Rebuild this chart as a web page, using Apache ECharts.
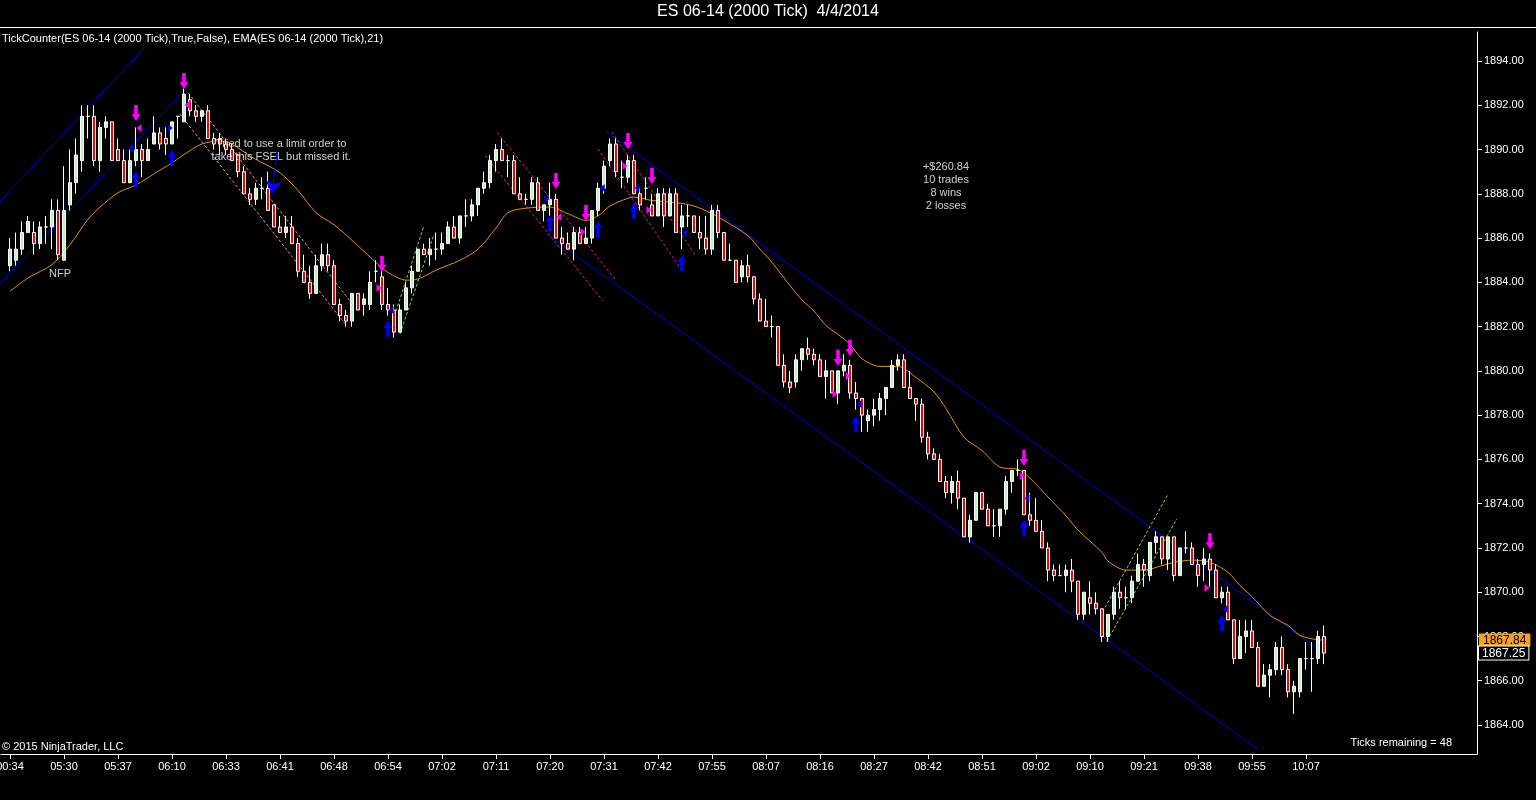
<!DOCTYPE html>
<html><head><meta charset="utf-8">
<script src="https://cdn.jsdelivr.net/npm/echarts@6/dist/echarts.min.js"></script>
<style>html,body{margin:0;padding:0;background:#000;}#c{width:1536px;height:800px;}</style>
</head><body><div id="c"></div>
<script>
const FONT = "'Liberation Sans', Arial, sans-serif";

const tickLabels = ['00:34','05:30','05:37','06:10','06:33','06:41','06:48','06:54','07:02','07:11','07:20','07:31','07:42','07:55','08:07','08:16','08:27','08:42','08:51','09:02','09:10','09:21','09:38','09:55','10:07'];
const yTicks = [1864,1866,1868,1870,1872,1874,1876,1878,1880,1882,1884,1886,1888,1890,1892,1894];

const opens = [
1884.75,1885.0,1885.5,1886.25,1886.25,1885.75,1886.5,1886.5,1887.25,1885.0,
1887.5,1888.5,1889.5,1891.5,1891.5,1889.5,1891.0,1891.25,1890.0,1889.5,
1888.5,1889.5,1890.0,1889.5,1890.25,1890.75,1890.5,1890.25,1891.5,1891.25,
1892.25,1891.75,1891.5,1891.75,1890.5,1890.5,1890.25,1890.0,1889.75,1889.0,
1888.0,1887.75,1888.25,1888.25,1887.5,1886.5,1886.25,1886.5,1885.75,1884.5,
1884.0,1883.5,1884.75,1885.25,1884.75,1883.0,1882.5,1882.25,1883.5,1883.0,
1883.0,1884.5,1884.25,1883.0,1882.75,1881.75,1882.75,1883.75,1884.5,1885.5,
1885.25,1885.5,1885.5,1885.75,1886.5,1886.0,1887.0,1887.0,1887.5,1888.25,
1888.5,1889.5,1890.0,1889.5,1889.5,1888.0,1887.75,1887.75,1888.5,1887.25,
1887.5,1887.75,1886.0,1885.75,1885.5,1886.25,1885.75,1886.0,1887.25,1888.25,
1889.5,1890.25,1888.75,1888.75,1889.5,1888.0,1888.25,1887.5,1887.0,1888.0,
1887.0,1888.0,1886.5,1887.0,1887.0,1886.25,1886.0,1885.5,1887.25,1886.25,
1885.0,1885.0,1884.25,1884.75,1884.25,1883.25,1882.25,1882.0,1882.0,1880.25,
1879.5,1879.5,1880.5,1881.0,1880.75,1880.5,1879.75,1880.0,1879.0,1880.0,
1880.25,1879.0,1878.75,1877.75,1878.0,1878.25,1878.75,1879.25,1880.25,1880.5,
1879.25,1878.75,1878.5,1877.0,1876.25,1876.0,1875.0,1874.5,1875.0,1874.25,
1872.5,1873.25,1874.5,1873.75,1873.0,1873.0,1873.75,1875.0,1875.5,1875.5,
1873.5,1873.25,1872.75,1872.0,1871.0,1870.75,1870.75,1871.0,1870.5,1869.0,
1869.75,1869.5,1869.25,1868.0,1869.0,1870.0,1869.75,1869.75,1870.5,1871.25,
1870.75,1872.25,1872.5,1871.5,1872.5,1870.75,1872.0,1872.0,1871.25,1871.25,
1871.5,1871.0,1869.75,1870.0,1868.75,1867.0,1868.0,1868.25,1867.5,1865.75,
1866.25,1866.5,1867.5,1866.5,1865.5,1865.5,1867.0,1867.0,1867.0,1868.0];
const closes = [
1885.5,1885.5,1886.25,1886.75,1885.75,1886.5,1886.5,1887.25,1885.25,1887.25,
1888.5,1889.75,1891.5,1891.5,1889.5,1891.0,1891.25,1889.5,1889.5,1888.5,
1889.5,1890.0,1889.5,1890.0,1890.75,1890.25,1890.25,1891.25,1891.5,1892.5,
1891.75,1891.5,1891.75,1890.5,1890.25,1890.25,1890.0,1889.5,1889.0,1888.0,
1887.75,1888.25,1888.25,1887.25,1886.5,1886.25,1886.5,1885.75,1884.5,1884.0,
1883.5,1884.75,1885.25,1884.75,1883.0,1882.5,1882.25,1883.5,1882.75,1883.25,
1884.0,1884.5,1883.0,1882.75,1881.75,1882.75,1883.75,1884.5,1885.5,1885.25,
1885.5,1885.5,1885.75,1886.5,1886.0,1887.0,1887.0,1887.5,1888.25,1888.5,
1889.5,1890.0,1889.5,1889.5,1888.0,1887.75,1887.75,1888.5,1887.25,1887.5,
1887.75,1886.0,1885.75,1885.5,1886.25,1885.75,1886.0,1887.25,1888.25,1889.25,
1890.25,1889.0,1888.75,1889.5,1888.0,1887.5,1888.25,1887.0,1888.0,1887.0,
1888.0,1886.25,1887.0,1887.0,1886.25,1886.0,1885.5,1887.25,1886.25,1885.0,
1885.0,1884.0,1884.75,1884.25,1883.25,1882.25,1882.0,1882.0,1880.25,1879.5,
1879.25,1880.5,1881.0,1880.75,1880.5,1879.75,1880.0,1879.0,1880.0,1880.25,
1879.0,1878.75,1878.0,1878.0,1878.25,1878.75,1879.25,1880.25,1880.5,1879.25,
1878.75,1878.5,1877.0,1876.25,1876.0,1875.0,1874.5,1875.0,1874.25,1872.5,
1873.25,1874.5,1873.75,1873.0,1873.0,1873.75,1875.0,1875.5,1875.5,1873.5,
1873.25,1872.75,1872.0,1871.0,1870.75,1870.75,1871.0,1870.5,1869.0,1870.0,
1869.5,1869.25,1868.0,1869.0,1870.0,1869.75,1869.75,1870.5,1871.25,1871.0,
1872.25,1872.5,1871.5,1872.5,1870.75,1872.0,1872.0,1871.25,1870.75,1871.5,
1871.0,1869.75,1870.0,1868.75,1867.0,1868.0,1868.25,1867.5,1865.75,1866.25,
1866.5,1867.5,1866.5,1865.5,1865.75,1867.0,1867.0,1867.0,1868.0,1867.25];
const lows = [
1884.5,1884.75,1885.25,1886.25,1885.25,1885.5,1885.75,1885.5,1885.0,1885.0,
1887.25,1888.0,1889.0,1890.5,1889.25,1889.0,1890.5,1889.5,1889.5,1888.5,
1888.5,1889.25,1888.75,1889.5,1890.25,1890.0,1889.75,1890.25,1890.5,1891.25,
1891.5,1891.25,1891.25,1890.5,1890.0,1889.75,1889.75,1889.5,1888.75,1888.0,
1887.5,1887.5,1887.75,1887.25,1886.5,1886.25,1886.0,1885.75,1884.25,1884.0,
1883.25,1883.5,1884.5,1884.5,1883.0,1882.25,1882.0,1882.0,1882.75,1882.5,
1882.75,1884.0,1882.75,1882.5,1881.5,1881.75,1882.75,1883.5,1884.5,1885.25,
1884.75,1885.0,1885.25,1885.75,1886.0,1885.75,1886.5,1886.75,1887.0,1888.0,
1888.25,1889.0,1889.5,1888.75,1888.0,1887.75,1887.5,1887.5,1887.25,1886.75,
1887.0,1886.0,1885.25,1885.5,1885.0,1885.75,1885.75,1885.75,1887.0,1888.0,
1889.25,1888.75,1888.25,1888.5,1888.0,1887.25,1887.75,1887.0,1887.0,1886.5,
1887.0,1886.25,1885.5,1886.5,1886.25,1885.5,1885.25,1885.25,1886.0,1885.0,
1885.0,1884.0,1884.0,1884.0,1883.0,1882.25,1882.0,1881.5,1880.25,1879.25,
1879.0,1879.25,1880.0,1880.5,1880.25,1879.75,1878.75,1879.0,1878.5,1879.75,
1878.75,1878.25,1877.25,1877.25,1877.5,1877.75,1878.0,1879.25,1880.0,1879.25,
1878.75,1877.75,1876.75,1876.0,1876.0,1875.0,1874.25,1874.0,1873.75,1872.5,
1872.25,1873.25,1873.75,1873.0,1872.5,1872.5,1873.5,1874.5,1875.25,1873.5,
1873.0,1872.75,1872.0,1870.5,1870.5,1870.75,1870.0,1870.0,1868.75,1868.75,
1869.0,1869.0,1867.75,1867.75,1868.75,1869.25,1869.25,1869.5,1870.5,1870.25,
1870.5,1871.75,1871.25,1871.0,1870.5,1870.75,1871.75,1871.25,1870.25,1870.5,
1870.25,1869.75,1869.5,1868.75,1866.75,1867.0,1867.25,1867.5,1865.75,1865.75,
1865.25,1866.25,1866.25,1865.25,1864.5,1865.25,1866.5,1865.5,1866.75,1866.75];
const highs = [
1886.0,1886.25,1886.75,1887.0,1886.75,1886.75,1887.0,1887.75,1887.75,1889.25,
1890.0,1890.5,1892.0,1892.0,1892.0,1891.25,1891.5,1891.25,1890.5,1890.0,
1890.0,1891.0,1890.25,1890.5,1891.5,1891.0,1891.0,1891.25,1891.5,1892.75,
1892.5,1892.0,1891.75,1892.0,1890.75,1890.75,1890.5,1890.25,1889.75,1889.25,
1888.25,1888.5,1888.75,1889.0,1887.5,1887.0,1887.0,1887.0,1886.0,1885.25,
1884.75,1885.25,1885.75,1885.75,1885.0,1883.25,1882.75,1883.5,1883.5,1883.5,
1884.5,1885.0,1884.5,1883.75,1883.0,1883.0,1884.0,1884.75,1885.5,1885.75,
1886.0,1886.25,1886.25,1886.75,1887.0,1887.0,1887.75,1887.75,1888.25,1889.0,
1889.75,1890.25,1890.5,1889.75,1889.75,1888.75,1888.0,1888.75,1888.75,1887.5,
1888.5,1888.0,1886.5,1886.25,1886.5,1886.5,1886.5,1887.25,1888.5,1889.5,
1890.5,1890.5,1889.5,1889.75,1889.75,1888.25,1888.75,1888.0,1888.25,1888.25,
1888.25,1888.25,1887.5,1887.5,1887.0,1887.0,1887.0,1887.5,1887.5,1886.25,
1885.75,1885.0,1885.0,1885.25,1884.25,1883.5,1883.25,1882.5,1882.0,1880.75,
1880.0,1880.75,1881.0,1881.5,1881.0,1880.75,1880.5,1880.0,1880.0,1880.75,
1880.5,1879.5,1878.75,1878.25,1878.75,1879.0,1879.25,1880.5,1880.75,1880.75,
1880.0,1878.75,1878.75,1877.25,1876.5,1876.25,1875.25,1875.25,1875.5,1874.25,
1873.5,1874.5,1874.5,1874.0,1873.75,1873.75,1875.25,1875.5,1876.0,1875.5,
1874.5,1874.25,1873.25,1872.25,1871.25,1871.25,1871.25,1871.5,1870.5,1870.0,
1870.5,1870.0,1869.25,1869.0,1870.25,1870.5,1870.25,1870.75,1871.75,1871.5,
1872.25,1872.75,1872.5,1872.5,1872.5,1872.0,1872.75,1872.25,1871.5,1872.0,
1871.75,1871.25,1870.25,1870.25,1868.75,1868.75,1868.75,1868.75,1867.75,1866.75,
1866.75,1867.75,1868.0,1866.75,1866.0,1867.0,1867.75,1867.75,1868.25,1868.5];

const emaIdx = [0,3,7,10,13,15,18,21,24,27,30,32,35,41,45,48,51,54,57,61,63,66,68,71,75,78,81,83,86,90,93,96,98,100,103,104,107,111,114,117,119,123,125,127,130,132,134,136,138,140,142,145,148,151,154,156,159,162,165,168,170,173,176,178,182,183,186,189,192,194,197,200,203,205,207,210,213,215,218,219];
const emaVal = [1883.6,1884.2,1884.8,1885.7,1886.85,1887.4,1888.05,1888.4,1888.9,1889.4,1889.95,1890.25,1890.4,1889.55,1888.95,1888.15,1887.15,1886.6,1885.9,1884.9,1884.45,1884.1,1884.15,1884.55,1885.0,1885.5,1886.45,1887.15,1887.35,1887.4,1887.1,1886.8,1887.0,1887.45,1887.8,1887.85,1887.7,1887.6,1887.45,1887.1,1886.8,1886.1,1885.5,1884.9,1883.85,1883.2,1882.7,1882.05,1881.65,1881.2,1880.55,1880.2,1880.2,1879.7,1879.05,1878.3,1877.0,1876.4,1875.65,1875.55,1875.15,1874.3,1873.45,1872.8,1871.8,1871.4,1871.0,1871.0,1871.2,1871.35,1871.45,1871.35,1870.9,1870.3,1869.8,1868.95,1868.5,1868.05,1867.85,1867.84];

// drawn trend lines: [barIndex, price] endpoints
const blueLines = [
  [[-1.67,1887.67],[23.3,1894.85]],
  [[-1.67,1883.95],[28.3,1892.45]],
  [[99.2,1890.84],[219.2,1867.2]],
  [[89.3,1886.2],[208,1862.9]]
];
const salmonLines = [
  [[29.7,1892.56],[57,1883.04]],
  [[28.3,1891.61],[55.8,1882.14]]
];
const magentaLines = [
  [[81.2,1890.77],[100.8,1884.16]],
  [[79.2,1889.72],[98.8,1883.17]],
  [[98,1890.03],[112,1884.53]],
  [[100.3,1890.8],[114.3,1885.2]]
];
const greenLines = [
  [[63.8,1882.27],[68.9,1886.48]],
  [[65,1881.67],[70.6,1886.11]],
  [[181.7,1868.92],[193,1874.43]],
  [[182.8,1867.79],[194.5,1873.32]]
];

// signal markers [barIndex, price]
const sellArrows = [[21,1891.65],[29,1893.1],[62,1884.83],[91,1888.58],[96,1887.13],[103,1890.38],[107,1888.8],[138,1880.58],[140,1881.03],[169,1876.06],[200,1872.3]];
const buyArrows = [[21,1888.67],[27,1889.62],[63,1881.9],[90,1886.68],[98,1886.41],[104,1887.22],[112,1884.87],[141,1877.6],[169,1872.9],[202,1868.6]];
const magRight = [[61.5,1883.74],[95.5,1886.27],[102.5,1889.26],[106.5,1887.27],[137.5,1878.95],[139.7,1879.77],[168.7,1875.25],[199.5,1870.19]];
const magLeft = [[21.5,1890.97],[29.5,1892.01],[91.5,1886.95]];
const blueRight = [[20.5,1890.02],[26.7,1890.97],[89.5,1887.76]];
const blueLeft = [[63.5,1882.75],[98.7,1888.26],[104.5,1888.26],[112.5,1886.23],[141.5,1878.5],[169.5,1874.25],[202.5,1869.24]];

const noteArrow = [[44.45,1889.8],[43.67,1888.0]];
const notes = [
  {pos:[8.33,1884.38], text:'NFP'},
  {pos:[45.2,1889.98], text:'Tried to use a limit order to\ntake this FSEL but missed it.'},
  {pos:[156,1888.31], text:'+$260.84\n10 trades\n8 wins\n2 losses'}
];
const emaLast = 1867.84;

// ---- build ----
const N = opens.length;
const lastClose = closes[N - 1];
const SLOTS = 246;
const cats = [];
for (let k = 0; k < SLOTS; k++) cats.push(String(k));
const candleData = [['-','-','-','-']];
for (let i = 0; i < N; i++) candleData.push([opens[i], closes[i], lows[i], highs[i]]);
const lblInterval = (idx) => idx >= 1 && (idx - 1) % 9 === 0 && (idx - 1) / 9 < tickLabels.length;

function lineSeries(arr, color, type, z) {
  return arr.map(seg => ({
    type: 'line', xAxisIndex: 1, yAxisIndex: 0, data: seg, symbol: 'none', silent: true, z: z || 2,
    lineStyle: { color: color, width: 1, type: type }, animation: false
  }));
}
function markerSeries(arr, path, size, color) {
  return { type: 'scatter', xAxisIndex: 1, yAxisIndex: 0, data: arr, symbol: path, symbolSize: size,
    itemStyle: { color: color, opacity: 1 }, z: 6, silent: true };
}
function tagAxis(value, style) {
  return {
    type: 'value', position: 'right', min: 1862.69, max: 1895.31, scale: true,
    axisLine: { show: false }, axisTick: { show: false }, splitLine: { show: false },
    axisLabel: {
      show: true, margin: 2, fontFamily: FONT, customValues: [value],
      formatter: v => '{t|' + v.toFixed(2) + '}',
      rich: { t: Object.assign({ fontSize: 12, fontFamily: FONT }, style) }
    }
  };
}
const DOWN = 'path://M3,0 L7,0 L7,10 L10,10 L5,18 L0,10 L3,10 Z';
const UP = 'path://M5,0 L10,8 L7,8 L7,18 L3,18 L3,8 L0,8 Z';
const RIGHT = 'path://M0,0 L10,6 L0,12 Z';
const LEFT = 'path://M10,0 L0,6 L10,12 Z';

const chart = echarts.init(document.getElementById('c'));
const series = [];
series.push(...lineSeries(blueLines, '#0000ee', 'solid', 2));
series.push(...lineSeries(salmonLines, '#e8907a', [3,2], 2));
series.push(...lineSeries(magentaLines, '#e0207a', [3,2], 2));
series.push(...lineSeries(greenLines, '#9acd32', [3,2], 2));
series.push({
  type: 'line', xAxisIndex: 1, yAxisIndex: 0, data: emaIdx.map((x, j) => [x, emaVal[j]]),
  smooth: 0.3, symbol: 'none', silent: true, z: 3,
  lineStyle: { color: '#e39400', width: 1 }
});
series.push({
  type: 'candlestick', xAxisIndex: 0, yAxisIndex: 0, data: candleData, barWidth: 4, z: 4, silent: true,
  itemStyle: { color: '#c4efc0', color0: '#ff0000', borderColor: '#ffffff', borderColor0: '#ffffff', borderWidth: 1 }
});
series.push(markerSeries(sellArrows, DOWN, [9, 16], '#ff00ff'));
series.push(markerSeries(buyArrows, UP, [9, 16], '#0000ff'));
series.push(markerSeries(magRight, RIGHT, [5, 8], '#ff00ff'));
series.push(markerSeries(magLeft, LEFT, [5, 8], '#ff00ff'));
series.push(markerSeries(blueRight, RIGHT, [5, 8], '#0000ff'));
series.push(markerSeries(blueLeft, LEFT, [5, 8], '#0000ff'));
series.push({
  type: 'lines', coordinateSystem: 'cartesian2d', xAxisIndex: 1, yAxisIndex: 0, silent: true, z: 6,
  symbol: ['none', 'arrow'], symbolSize: 13,
  lineStyle: { color: '#0000ff', width: 1, opacity: 1 },
  data: [{ coords: noteArrow }]
});
series.push({
  type: 'scatter', xAxisIndex: 1, yAxisIndex: 0, symbolSize: 1, silent: true, z: 7,
  itemStyle: { color: 'transparent' },
  data: notes.map(n => ({ value: n.pos, name: n.text })),
  label: { show: true, position: 'inside', formatter: '{b}', color: '#ffffff', fontSize: 11, lineHeight: 13, align: 'center', fontFamily: FONT }
});

chart.setOption({
  backgroundColor: '#000000',
  animation: false,
  textStyle: { fontFamily: FONT },
  title: [
    { text: 'ES 06-14 (2000 Tick)  4/4/2014', left: 'center', top: 4, padding: 0, textStyle: { color: '#fff', fontSize: 16, fontWeight: 'normal', fontFamily: FONT } },
    { text: 'TickCounter(ES 06-14 (2000 Tick),True,False), EMA(ES 06-14 (2000 Tick),21)', left: 2, top: 33, padding: 0, textStyle: { color: '#fff', fontSize: 11, fontWeight: 'normal', fontFamily: FONT } },
    { text: '© 2015 NinjaTrader, LLC', left: 2, top: 741, padding: 0, textStyle: { color: '#fff', fontSize: 11, fontWeight: 'normal', fontFamily: FONT } },
    { text: 'Ticks remaining = 48', right: 84, top: 737, padding: 0, textStyle: { color: '#fff', fontSize: 11, fontWeight: 'normal', fontFamily: FONT } }
  ],
  graphic: [{ type: 'line', shape: { x1: 0, y1: 27.5, x2: 1536, y2: 27.5 }, style: { stroke: '#ffffff', lineWidth: 1 }, silent: true }],
  grid: { left: 1, right: 59, top: 32, bottom: 46, containLabel: false, outerBoundsMode: 'none' },
  xAxis: [
    {
      type: 'category', data: cats, boundaryGap: true,
      axisLine: { show: true, onZero: false, lineStyle: { color: '#ffffff', width: 1 } },
      axisTick: { show: true, interval: lblInterval, alignWithLabel: true, length: 5, lineStyle: { color: '#ffffff' } },
      axisLabel: { interval: lblInterval, color: '#ffffff', fontSize: 11, margin: 7, fontFamily: FONT,
        formatter: (v, idx) => tickLabels[(idx - 1) / 9] || '' },
      splitLine: { show: false }
    },
    { type: 'value', min: -1.5, max: SLOTS - 1.5, show: false }
  ],
  yAxis: [
    {
      type: 'value', position: 'right', min: 1862.69, max: 1895.31, scale: true,
      axisLine: { show: true, onZero: false, lineStyle: { color: '#ffffff', width: 1 } },
      axisTick: { show: true, length: 5, lineStyle: { color: '#ffffff' }, customValues: yTicks },
      axisLabel: { color: '#ffffff', fontSize: 11, margin: 7, fontFamily: FONT, formatter: v => v.toFixed(2), customValues: yTicks },
      splitLine: { show: false }
    },
    tagAxis(emaLast, { backgroundColor: '#f5a020', color: '#000000', padding: [1, 4, 0, 4] }),
    tagAxis(lastClose, { backgroundColor: '#000000', color: '#ffffff', borderColor: '#ffffff', borderWidth: 1, padding: [1, 3, 0, 3] })
  ],
  series: series
});
</script>
</body></html>
